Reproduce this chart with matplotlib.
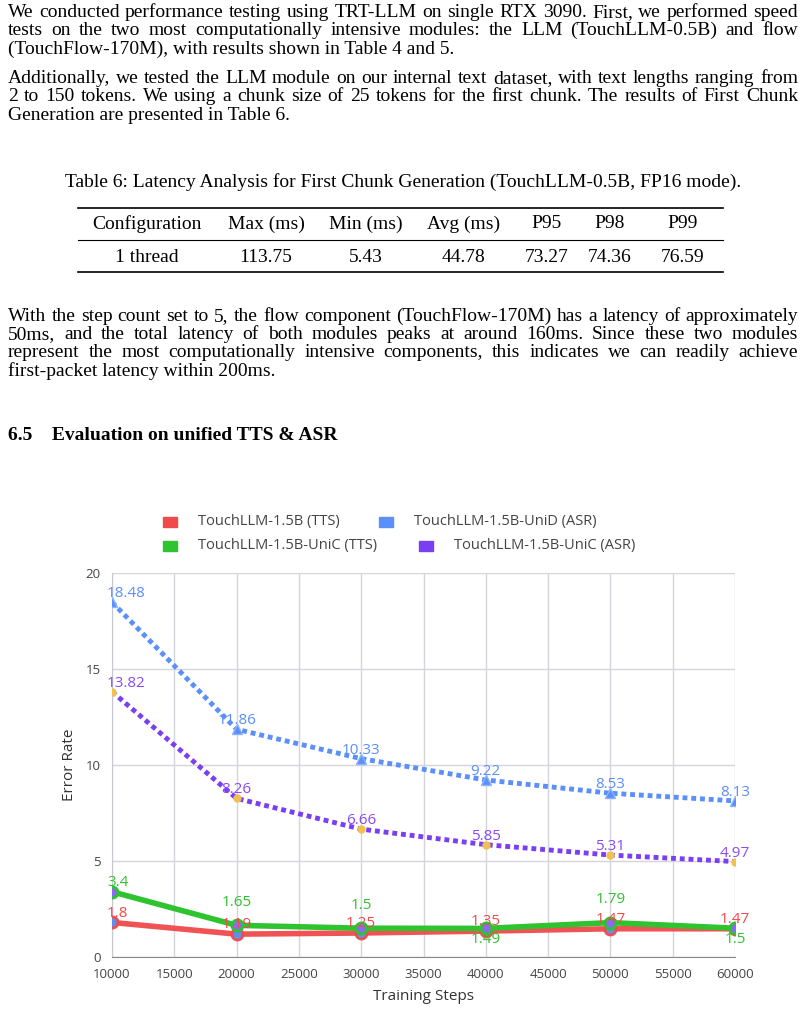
import matplotlib
matplotlib.use("Agg")
import matplotlib.pyplot as plt

steps = [10000, 20000, 30000, 40000, 50000, 60000]
tts_base = [1.8, 1.19, 1.25, 1.35, 1.47, 1.47]
tts_unic = [3.4, 1.65, 1.5, 1.49, 1.79, 1.5]
asr_unid = [18.48, 11.86, 10.33, 9.22, 8.53, 8.13]
asr_unic = [13.82, 8.26, 6.66, 5.85, 5.31, 4.97]

table_head = ["Configuration", "Max (ms)", "Min (ms)", "Avg (ms)", "P95", "P98", "P99"]
table_row = ["1 thread", "113.75", "5.43", "44.78", "73.27", "74.36", "76.59"]

W, H = 806, 1028
fig = plt.figure(figsize=(W / 100, H / 100), dpi=100)
renderer = fig.canvas.get_renderer()
SERIF = ["Liberation Serif", "DejaVu Serif"]
SANS = ["Open Sans", "DejaVu Sans"]
FS = 14


def ptxt(x, y, s, **kw):
    kw.setdefault("fontsize", FS)
    kw.setdefault("family", SERIF)
    kw.setdefault("va", "center")
    return fig.text(x / W, 1 - y / H, s, **kw)


def justified(y, s, x0=8, x1=798):
    # y is the text centre; words sit on a shared baseline
    words = s.split(" ")
    arts = [ptxt(x0, y + 5, w, va="baseline") for w in words]
    widths = [a.get_window_extent(renderer).width for a in arts]
    gap = (x1 - x0 - sum(widths)) / max(len(words) - 1, 1)
    x = x0
    for a, w in zip(arts, widths):
        a.set_x(x / W)
        x += w + gap


def hline(y, x0, x1, lw):
    fig.add_artist(plt.Line2D([x0 / W, x1 / W], [1 - y / H, 1 - y / H], color="black", lw=lw))


para = [
    (12, "We conducted performance testing using TRT-LLM on single RTX 3090. First, we performed speed", True),
    (30, "tests on the two most computationally intensive modules: the LLM (TouchLLM-0.5B) and flow", True),
    (49, "(TouchFlow-170M), with results shown in Table 4 and 5.", False),
    (78, "Additionally, we tested the LLM module on our internal text dataset, with text lengths ranging from", True),
    (96, "2 to 150 tokens. We using a chunk size of 25 tokens for the first chunk. The results of First Chunk", True),
    (115, "Generation are presented in Table 6.", False),
    (316, "With the step count set to 5, the flow component (TouchFlow-170M) has a latency of approximately", True),
    (334, "50ms, and the total latency of both modules peaks at around 160ms.  Since these two modules", True),
    (352, "represent the most computationally intensive components, this indicates we can readily achieve", True),
    (371, "first-packet latency within 200ms.", False),
]
for y, s, just in para:
    if just:
        justified(y, s.replace("  ", " "))
    else:
        ptxt(8, y + 5, s, va="baseline")

ptxt(403, 182, "Table 6: Latency Analysis for First Chunk Generation (TouchLLM-0.5B, FP16 mode).", ha="center")
hline(208, 78, 723, 1.2)
hline(240, 78, 723, 0.8)
hline(272, 78, 723, 1.2)
cols = [147, 266, 366, 464, 547, 610, 683]
for x, h, r in zip(cols, table_head, table_row):
    ptxt(x, 224, h, ha="center")
    ptxt(x, 257, r, ha="center")

ptxt(8, 435, "6.5    Evaluation on unified TTS & ASR", fontweight="bold", fontsize=14)

# chart
ax = fig.add_axes([112 / W, (H - 957) / H, 623 / W, 384 / H])
ax.plot(steps, asr_unid, color="#5b8ff9", lw=3.5, ls=(0, (1, 0.8)), marker="^", ms=7,
        mfc="#5b8ff9", mec="#8ab4ff", zorder=4)
ax.plot(steps, asr_unic, color="#7b3ff2", lw=3.5, ls=(0, (1, 0.8)), marker="o", ms=5,
        mfc="#f0c050", mec="#f0c050", zorder=4)
ax.plot(steps, tts_base, color="#f04a4a", lw=4, marker="o", ms=8, mfc="#5b8ff9",
        mec="#f04a4a", mew=2, zorder=5, alpha=0.95)
ax.plot(steps, tts_unic, color="#2fc32f", lw=4, marker="o", ms=8, mfc="#8a6cf0",
        mec="#2fc32f", mew=2, zorder=6)

lab = dict(fontsize=11, family=SANS, zorder=7)
for i, x in enumerate(steps):
    xx = x - 400 if i == 0 else x
    ha = "left" if i == 0 else "center"
    ax.text(xx, asr_unid[i] + 0.05, f"{asr_unid[i]:g}", color="#5b8ff9", ha=ha, va="bottom", **lab)
    ax.text(xx, asr_unic[i] + 0.05, f"{asr_unic[i]:g}", color="#8a4af3", ha=ha, va="bottom", **lab)
    ax.text(xx, tts_base[i] + 0.1, f"{tts_base[i]:g}", color="#f04a4a", ha=ha, va="bottom", **lab)
    if i in (3, 5):
        ax.text(xx, tts_unic[i] - 0.2, f"{tts_unic[i]:g}", color="#2fc32f", ha=ha, va="top", **lab)
    else:
        off = 0.1 if i == 0 else 0.8
        ax.text(xx, tts_unic[i] + off, f"{tts_unic[i]:g}", color="#2fc32f", ha=ha, va="bottom", **lab)

ax.set_xlim(10000, 60000)
ax.set_ylim(0, 20)
ax.set_xticks(range(10000, 60001, 5000))
ax.set_yticks([0, 5, 10, 15, 20])
ax.grid(True, color="#d4d4dc", lw=1)
ax.set_axisbelow(True)
for s in ["top", "right"]:
    ax.spines[s].set_visible(False)
ax.spines["left"].set_color("#c8c8d0")
ax.spines["bottom"].set_color("#888888")
ax.tick_params(length=0, labelsize=9.5, colors="#444444", pad=8)
for t in ax.get_xticklabels() + ax.get_yticklabels():
    t.set_family(SANS)
ax.set_xlabel("Training Steps", family=SANS, fontsize=11, color="#333333", labelpad=6)
ax.set_ylabel("Error Rate", family=SANS, fontsize=11, color="#333333", labelpad=6)

# legend
leg = [("TouchLLM-1.5B (TTS)", "#f04a4a", 163, 522), ("TouchLLM-1.5B-UniD (ASR)", "#5b8ff9", 379, 522),
       ("TouchLLM-1.5B-UniC (TTS)", "#2fc32f", 163, 546), ("TouchLLM-1.5B-UniC (ASR)", "#7b3ff2", 419, 546)]
for name, c, x, y in leg:
    fig.add_artist(plt.Rectangle((x / W, 1 - (y + 5) / H), 14 / W, 10 / H, color=c))
    ptxt(x + 35, y, name, family=SANS, fontsize=10.5, color="#444444")

fig.savefig("out.png", dpi=100, facecolor="white")
